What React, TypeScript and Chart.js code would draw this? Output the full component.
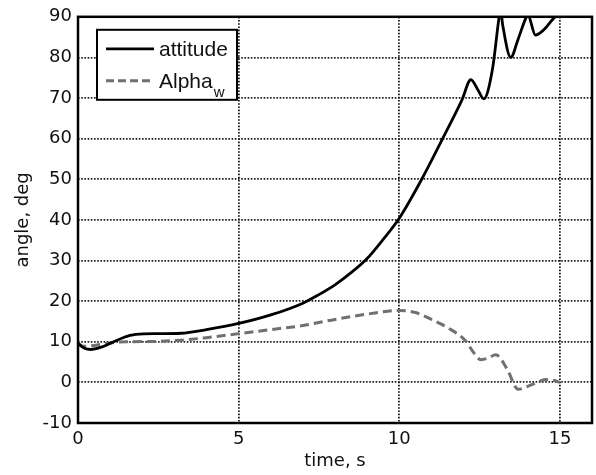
import React, { useEffect, useRef } from "react";
import { Chart, registerables } from "chart.js";

Chart.register(...registerables);

// Attitude (solid black)
const attitudeT = [0, 0.2, 0.4, 0.7, 1.0, 1.4, 1.8, 2.5, 3.2, 4.0, 5.0, 6.0, 7.0, 7.5, 8.0, 8.5, 9.0, 9.5, 10.0, 10.7, 11.33, 11.95, 12.23, 12.45, 12.63, 12.9, 13.1, 13.15, 13.22, 13.47, 13.7, 13.93, 14.0, 14.24, 14.5, 14.8, 15.0];
const attitudeY = [9.6, 8.4, 8.1, 8.6, 9.6, 11.0, 11.8, 12.0, 12.1, 13.0, 14.5, 16.6, 19.5, 21.6, 24.0, 27.0, 30.5, 35.2, 40.4, 50.0, 59.7, 69.5, 74.5, 72.0, 69.8, 77.0, 89.5, 92.0, 88.0, 80.0, 84.5, 89.5, 90.5, 85.5, 86.8, 89.6, 91.0];

// Alpha_w (dashed gray)
const alphaT = [0, 0.15, 0.4, 0.8, 1.2, 1.6, 2.5, 3.2, 4.0, 5.0, 6.0, 7.0, 8.0, 9.0, 10.0, 10.5, 11.0, 11.5, 12.07, 12.3, 12.54, 12.8, 13.0, 13.35, 13.7, 14.0, 14.3, 14.55, 14.86, 15.0];
const alphaY = [9.6, 8.9, 9.0, 9.5, 9.9, 10.0, 10.1, 10.4, 11.0, 12.0, 13.0, 14.0, 15.5, 16.8, 17.7, 17.2, 15.5, 13.5, 10.2, 7.5, 5.6, 6.1, 6.8, 3.4, -1.7, -1.0, 0.0, 0.7, 0.4, 0.0];

const xTicks = [0, 5, 10, 15];
const yMin = -10;
const yMax = 90;
const xMin = 0;
const xMax = 16;

const legendLabels = ["attitude", "Alpha", "w"];

const TICK_FONT = "'DejaVu Sans', sans-serif";
const LEGEND_FONT = "'Liberation Sans', Arial, sans-serif";

const framePlugin = {
  id: "frameAndLegend",
  afterDraw(chart: any) {
    const { ctx, chartArea } = chart;
    const { left, top, right, bottom } = chartArea;
    ctx.save();
    // frame
    ctx.strokeStyle = "#000";
    ctx.lineWidth = 2.5;
    ctx.setLineDash([]);
    ctx.strokeRect(left, top, right - left, bottom - top);

    // legend box
    const bx = left + 19;
    const by = top + 13;
    const bw = 140;
    const bh = 70;
    ctx.fillStyle = "#fff";
    ctx.fillRect(bx, by, bw, bh);
    ctx.lineWidth = 2;
    ctx.strokeStyle = "#000";
    ctx.strokeRect(bx, by, bw, bh);

    // attitude entry
    ctx.beginPath();
    ctx.lineWidth = 2.8;
    ctx.strokeStyle = "#000";
    ctx.moveTo(bx + 9, by + 19);
    ctx.lineTo(bx + 57, by + 19);
    ctx.stroke();
    ctx.fillStyle = "#111";
    ctx.font = `21px ${LEGEND_FONT}`;
    ctx.textBaseline = "alphabetic";
    ctx.textAlign = "left";
    ctx.fillText(legendLabels[0], bx + 62, by + 26);

    // alpha entry
    ctx.beginPath();
    ctx.lineWidth = 3;
    ctx.strokeStyle = "#707070";
    ctx.setLineDash([8, 4]);
    ctx.moveTo(bx + 9, by + 51);
    ctx.lineTo(bx + 57, by + 51);
    ctx.stroke();
    ctx.setLineDash([]);
    ctx.fillText(legendLabels[1], bx + 62, by + 58);
    const w = ctx.measureText(legendLabels[1]).width;
    ctx.font = `15px ${LEGEND_FONT}`;
    ctx.fillText(legendLabels[2], bx + 62 + w + 1, by + 67);
    ctx.restore();
  },
};

export default function App() {
  const ref = useRef<HTMLCanvasElement | null>(null);

  useEffect(() => {
    if (!ref.current) return;
    const chart = new Chart(ref.current, {
      type: "line",
      data: {
        datasets: [
          {
            label: "attitude",
            data: attitudeT.map((t, i) => ({ x: t, y: attitudeY[i] })),
            borderColor: "#000",
            borderWidth: 2.8,
            pointRadius: 0,
            cubicInterpolationMode: "monotone",
            fill: false,
          },
          {
            label: "Alpha_w",
            data: alphaT.map((t, i) => ({ x: t, y: alphaY[i] })),
            borderColor: "#707070",
            borderWidth: 3,
            borderDash: [9, 5],
            pointRadius: 0,
            cubicInterpolationMode: "monotone",
            fill: false,
          },
        ],
      },
      options: {
        animation: false,
        responsive: false,
        layout: { padding: { top: 16, right: 4, left: 0, bottom: 0 } },
        plugins: { legend: { display: false }, tooltip: { enabled: false } },
        scales: {
          x: {
            type: "linear",
            min: xMin,
            max: xMax,
            afterBuildTicks: (s: any) => {
              s.ticks = xTicks.map((v) => ({ value: v }));
            },
            afterFit: (s: any) => {
              s.height = 52;
            },
            grid: { color: "#1a1a1a", lineWidth: 1.8, drawTicks: false },
            border: { display: false, dash: [1.6, 1.6] },
            ticks: {
              color: "#111",
              font: { family: TICK_FONT, size: 18 },
              padding: 6,
              maxRotation: 0,
            },
            title: {
              display: true,
              text: "time, s",
              color: "#111",
              font: { family: TICK_FONT, size: 18 },
              padding: { top: 0, bottom: 3 },
            },
          },
          y: {
            type: "linear",
            min: yMin,
            max: yMax,
            ticks: {
              stepSize: 10,
              color: "#111",
              font: { family: TICK_FONT, size: 18 },
              padding: 6,
            },
            afterFit: (s: any) => {
              s.width = 78;
            },
            grid: { color: "#1a1a1a", lineWidth: 1.8, drawTicks: false },
            border: { display: false, dash: [1.6, 1.6] },
            title: {
              display: true,
              text: "angle, deg",
              color: "#111",
              font: { family: TICK_FONT, size: 18 },
              padding: { top: 13, bottom: 0 },
            },
          },
        },
      },
      plugins: [framePlugin],
    });
    return () => chart.destroy();
  }, []);

  return (
    <div style={{ position: "absolute", left: 0, top: 0, width: 596, height: 475, background: "#fff" }}>
      <canvas ref={ref} width={596} height={475} style={{ display: "block" }} />
    </div>
  );
}
